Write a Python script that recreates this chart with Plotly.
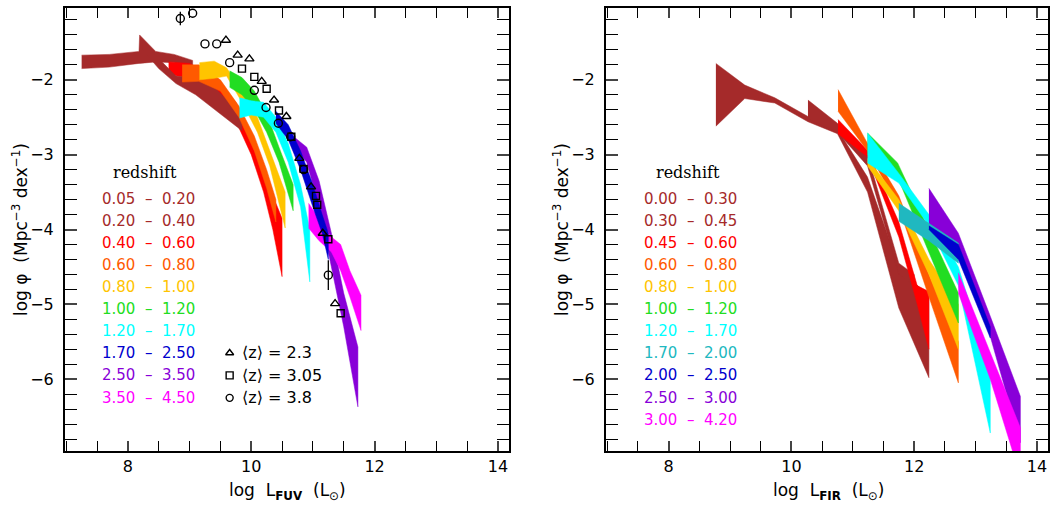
import plotly.graph_objects as go

# ---------------- data: FUV luminosity functions (log L, upper, lower log phi) ----
fuv_labels = ["0.05  –  0.20", "0.20  –  0.40", "0.40  –  0.60", "0.60  –  0.80", "0.80  –  1.00",
              "1.00  –  1.20", "1.20  –  1.70", "1.70  –  2.50", "2.50  –  3.50", "3.50  –  4.50"]
fuv_colors = ["#A52A2A", "#A52A2A", "#FF0000", "#FF5A00", "#FFC400",
              "#22DD22", "#00FFFF", "#0000CD", "#8800D8", "#FF00FF"]

fuv_x_0 = [7.25, 7.7, 8.18, 8.19, 8.45, 8.75, 9.05]
fuv_hi_0 = [-1.67, -1.66, -1.62, -1.40, -1.62, -1.66, -1.74]
fuv_lo_0 = [-1.85, -1.83, -1.78, -1.78, -1.76, -1.77, -1.84]

fuv_x_1 = [8.24, 8.5, 8.78, 9.1, 9.4, 9.65, 9.85]
fuv_hi_1 = [-1.50, -1.72, -1.95, -1.98, -2.10, -2.30, -2.45]
fuv_lo_1 = [-1.60, -1.85, -2.05, -2.20, -2.40, -2.55, -2.68]

fuv_x_2 = [8.66, 9.0, 9.4, 9.75, 10.0, 10.2, 10.35, 10.5]
fuv_hi_2 = [-1.76, -1.78, -1.95, -2.30, -2.75, -3.20, -3.55, -3.85]
fuv_lo_2 = [-1.93, -1.98, -2.15, -2.55, -3.00, -3.50, -4.00, -4.63]

fuv_x_3 = [8.88, 9.15, 9.5, 9.8, 10.05, 10.25, 10.4]
fuv_hi_3 = [-1.80, -1.80, -2.00, -2.35, -2.75, -3.20, -3.60]
fuv_lo_3 = [-2.03, -2.02, -2.15, -2.50, -2.95, -3.45, -3.90]

fuv_x_4 = [9.16, 9.4, 9.6, 9.85, 10.1, 10.3, 10.55]
fuv_hi_4 = [-1.77, -1.75, -1.84, -2.15, -2.50, -2.95, -3.50]
fuv_lo_4 = [-2.00, -1.98, -1.95, -2.30, -2.70, -3.15, -3.98]

fuv_x_5 = [9.65, 9.85, 10.05, 10.25, 10.45, 10.68]
fuv_hi_5 = [-1.88, -1.97, -2.15, -2.45, -2.90, -3.40]
fuv_lo_5 = [-2.10, -2.20, -2.40, -2.70, -3.10, -3.75]

fuv_x_6 = [9.81, 10.0, 10.2, 10.4, 10.6, 10.8, 10.95]
fuv_hi_6 = [-2.24, -2.28, -2.30, -2.50, -2.85, -3.40, -4.00]
fuv_lo_6 = [-2.51, -2.47, -2.50, -2.70, -3.10, -3.70, -4.70]

fuv_x_7 = [10.4, 10.6, 10.8, 11.0, 11.15, 11.25]
fuv_hi_7 = [-2.42, -2.60, -2.95, -3.40, -3.80, -4.05]
fuv_lo_7 = [-2.58, -2.80, -3.20, -3.70, -4.05, -4.40]

fuv_x_8 = [10.63, 10.9, 11.1, 11.3, 11.5, 11.73]
fuv_hi_8 = [-2.72, -2.90, -3.35, -4.05, -4.85, -5.57]
fuv_lo_8 = [-2.82, -3.10, -3.70, -4.50, -5.30, -6.37]

fuv_x_9 = [10.93, 11.1, 11.3, 11.45, 11.6, 11.78]
fuv_hi_9 = [-3.65, -3.85, -4.10, -4.20, -4.55, -4.88]
fuv_lo_9 = [-3.98, -4.15, -4.30, -4.55, -4.90, -5.35]

# Lyman-break data points
tri_x = [9.59, 9.78, 9.97, 10.17, 10.37, 10.57, 10.78, 10.97, 11.16, 11.36]
tri_y = [-1.47, -1.67, -1.72, -2.02, -2.27, -2.49, -3.05, -3.43, -4.05, -4.99]
sq_x = [9.85, 10.05, 10.25, 10.45, 10.65, 10.85, 11.05, 11.07, 11.25, 11.45]
sq_y = [-1.85, -1.96, -2.12, -2.41, -2.76, -3.19, -3.55, -3.67, -4.13, -5.12]
ci_x = [8.85, 9.05, 9.25, 9.44, 9.65, 10.05, 10.24, 10.44, 10.64, 10.85, 11.25]
ci_y = [-1.18, -1.11, -1.52, -1.52, -1.77, -2.14, -2.37, -2.58, -2.76, -3.20, -4.61]
ci_err = [0.09, 0, 0, 0, 0, 0, 0, 0, 0, 0, 0.20]
lbg_labels = ["⟨z⟩ = 2.3", "⟨z⟩ = 3.05", "⟨z⟩ = 3.8"]
lbg_symbols = ["triangle-up-open", "square-open", "circle-open"]

# ---------------- data: FIR luminosity functions ----------------
fir_labels = ["0.00  –  0.30", "0.30  –  0.45", "0.45  –  0.60", "0.60  –  0.80", "0.80  –  1.00",
              "1.00  –  1.20", "1.20  –  1.70", "1.70  –  2.00", "2.00  –  2.50", "2.50  –  3.00",
              "3.00  –  4.20"]
fir_colors = ["#A52A2A", "#A52A2A", "#FF0000", "#FF5A00", "#FFC400", "#22DD22",
              "#00FFFF", "#20B8C0", "#0000CD", "#8800D8", "#FF00FF"]

fir_x_0 = [8.77, 9.24, 9.73, 10.27, 10.75, 11.24, 11.75, 12.24]
fir_hi_0 = [-1.78, -2.07, -2.24, -2.49, -2.66, -3.30, -4.50, -4.90]
fir_lo_0 = [-2.62, -2.25, -2.31, -2.56, -2.72, -3.50, -5.05, -5.98]

fir_x_1 = [10.27, 10.75, 11.24, 11.75, 12.0]
fir_hi_1 = [-2.27, -2.58, -3.00, -4.45, -4.60]
fir_lo_1 = [-2.52, -2.70, -3.15, -4.60, -4.75]

fir_x_2 = [10.76, 11.24, 11.75, 12.05, 12.24]
fir_hi_2 = [-2.53, -2.94, -3.90, -4.75, -4.83]
fir_lo_2 = [-2.72, -3.03, -4.10, -5.00, -5.60]

fir_x_3 = [10.76, 11.24, 11.75, 12.24, 12.72]
fir_hi_3 = [-2.13, -2.85, -3.55, -4.60, -5.50]
fir_lo_3 = [-2.42, -2.95, -3.70, -4.90, -6.05]

fir_x_4 = [11.24, 11.75, 12.24, 12.72]
fir_hi_4 = [-3.05, -3.60, -4.40, -5.00]
fir_lo_4 = [-3.15, -3.75, -4.60, -5.60]

fir_x_5 = [11.24, 11.73, 12.24, 12.72]
fir_hi_5 = [-2.71, -3.11, -4.00, -4.85]
fir_lo_5 = [-3.00, -3.30, -4.30, -5.25]

fir_x_6 = [11.24, 11.75, 12.24, 12.72, 13.24]
fir_hi_6 = [-2.71, -3.25, -3.80, -4.50, -5.88]
fir_lo_6 = [-3.11, -3.38, -3.95, -4.75, -6.72]

fir_x_7 = [11.75, 12.24, 12.72]
fir_hi_7 = [-3.65, -3.92, -4.18]
fir_lo_7 = [-3.89, -4.15, -4.45]

fir_x_8 = [12.24, 12.72, 13.24]
fir_hi_8 = [-3.95, -4.20, -5.30]
fir_lo_8 = [-4.00, -4.40, -5.45]

fir_x_9 = [12.24, 12.72, 13.24, 13.73]
fir_hi_9 = [-3.45, -4.05, -5.16, -6.23]
fir_lo_9 = [-3.96, -4.23, -5.43, -6.85]

fir_x_10 = [12.72, 13.24, 13.73]
fir_hi_10 = [-4.58, -5.65, -6.65]
fir_lo_10 = [-4.85, -6.00, -7.30]

fuv_bands = [(fuv_x_0, fuv_hi_0, fuv_lo_0), (fuv_x_1, fuv_hi_1, fuv_lo_1), (fuv_x_2, fuv_hi_2, fuv_lo_2),
             (fuv_x_3, fuv_hi_3, fuv_lo_3), (fuv_x_4, fuv_hi_4, fuv_lo_4), (fuv_x_5, fuv_hi_5, fuv_lo_5),
             (fuv_x_6, fuv_hi_6, fuv_lo_6), (fuv_x_7, fuv_hi_7, fuv_lo_7), (fuv_x_8, fuv_hi_8, fuv_lo_8),
             (fuv_x_9, fuv_hi_9, fuv_lo_9)]
fir_bands = [(fir_x_0, fir_hi_0, fir_lo_0), (fir_x_1, fir_hi_1, fir_lo_1), (fir_x_2, fir_hi_2, fir_lo_2),
             (fir_x_3, fir_hi_3, fir_lo_3), (fir_x_4, fir_hi_4, fir_lo_4), (fir_x_5, fir_hi_5, fir_lo_5),
             (fir_x_6, fir_hi_6, fir_lo_6), (fir_x_7, fir_hi_7, fir_lo_7), (fir_x_8, fir_hi_8, fir_lo_8),
             (fir_x_9, fir_hi_9, fir_lo_9), (fir_x_10, fir_hi_10, fir_lo_10)]

# drawing order (later = on top)
fuv_order = [0, 2, 1, 3, 4, 5, 6, 8, 9, 7]
fir_order = [0, 1, 2, 3, 4, 5, 6, 9, 10, 7, 8]

FONT = "DejaVu Sans"
fig = go.Figure()


def add_band(x, hi, lo, color, xa, ya):
    fig.add_trace(go.Scatter(
        x=list(x) + list(x)[::-1], y=list(hi) + list(lo)[::-1],
        mode="lines", fill="toself", fillcolor=color,
        line=dict(color=color, width=0.5), xaxis=xa, yaxis=ya,
        showlegend=False, hoverinfo="skip"))


for i in fuv_order:
    x, hi, lo = fuv_bands[i]
    add_band(x, hi, lo, fuv_colors[i], "x", "y")
for i in fir_order:
    x, hi, lo = fir_bands[i]
    add_band(x, hi, lo, fir_colors[i], "x2", "y2")


def mk(sym, size=8):
    return dict(symbol=sym, color="black", size=size, line=dict(color="black", width=1.4))


fig.add_trace(go.Scatter(x=tri_x, y=tri_y, mode="markers", marker=mk("triangle-up-open"),
                         xaxis="x", yaxis="y", showlegend=False))
fig.add_trace(go.Scatter(x=sq_x, y=sq_y, mode="markers", marker=mk("square-open", 7),
                         xaxis="x", yaxis="y", showlegend=False))
fig.add_trace(go.Scatter(x=ci_x, y=ci_y, mode="markers", marker=mk("circle-open"),
                         error_y=dict(type="data", array=ci_err, color="black", thickness=1.3, width=0),
                         xaxis="x", yaxis="y", showlegend=False))

# ---------------- axes ----------------
XR = [6.98, 14.18]
YR = [-6.96, -1.04]
xminor = dict(dtick=0.5, tick0=0, ticks="inside", ticklen=5, tickwidth=1.2, tickcolor="black", showgrid=False)
yminor = dict(dtick=0.2, tick0=0, ticks="inside", ticklen=6, tickwidth=1.2, tickcolor="black", showgrid=False)
common_x = dict(range=XR, tickmode="linear", tick0=0, dtick=2, ticks="inside", ticklen=10, tickwidth=1.5,
                showline=True, linewidth=2, linecolor="black", mirror="allticks", showgrid=False,
                zeroline=False, tickfont=dict(family=FONT, size=16, color="black"), minor=xminor)
common_y = dict(range=YR, tickmode="linear", tick0=0, dtick=1,
                ticks="inside", ticklen=12, tickwidth=1.5,
                showline=True, linewidth=2, linecolor="black", mirror="allticks", showgrid=False,
                zeroline=False, tickfont=dict(family=FONT, size=16, color="black"), ticklabelstandoff=6,
                minor=yminor)
# overlay axes that only carry mirrored minor ticks (top / right)
mirror_x = dict(range=XR, tickmode="linear", tick0=0, dtick=2, ticks="inside", ticklen=10, tickwidth=1.5,
                showticklabels=False, showline=False, showgrid=False, zeroline=False, side="top",
                minor=xminor)
mirror_y = dict(range=YR, tickmode="linear", tick0=0, dtick=1, ticks="inside", ticklen=12, tickwidth=1.5,
                showticklabels=False, showline=False, showgrid=False, zeroline=False, side="right",
                minor=yminor)

D_TOP = 1 - 8 / 507
D_BOT = 1 - 451 / 507
fig.update_layout(
    width=1050, height=507, margin=dict(l=0, r=0, t=0, b=0),
    paper_bgcolor="white", plot_bgcolor="white",
    xaxis=dict(domain=[65 / 1050, 509 / 1050], anchor="y", **common_x),
    yaxis=dict(domain=[D_BOT, D_TOP], anchor="x", **common_y),
    xaxis2=dict(domain=[606 / 1050, 1048 / 1050], anchor="y2", **common_x),
    yaxis2=dict(domain=[D_BOT, D_TOP], anchor="x2", **common_y),
    xaxis3=dict(overlaying="x", anchor="y", **mirror_x),
    yaxis3=dict(overlaying="y", anchor="x", **mirror_y),
    xaxis4=dict(overlaying="x2", anchor="y2", **mirror_x),
    yaxis4=dict(overlaying="y2", anchor="x2", **mirror_y),
)
# empty traces so the overlay axes are drawn
for xa, ya in [("x3", "y"), ("x", "y3"), ("x4", "y2"), ("x2", "y4")]:
    fig.add_trace(go.Scatter(x=[], y=[], xaxis=xa, yaxis=ya, showlegend=False, hoverinfo="skip"))

ann = []
# axis titles
ytitle = "log φ  (Mpc<sup>−3</sup> dex<sup>−1</sup>)"
for xp in [20 / 1050, 561 / 1050]:
    ann.append(dict(text=ytitle, x=xp, y=1 - 230 / 507, xref="paper", yref="paper", textangle=-90,
                    xanchor="center", yanchor="middle",
                    showarrow=False, font=dict(family=FONT, size=17, color="black")))
ann.append(dict(text="log  L<sub><b>FUV</b></sub>  (L<sub>⊙</sub>)", x=287 / 1050, y=1 - 491 / 507,
                xref="paper", yref="paper", xanchor="center", yanchor="middle",
                showarrow=False, font=dict(family=FONT, size=17, color="black")))
ann.append(dict(text="log  L<sub><b>FIR</b></sub>  (L<sub>⊙</sub>)", x=828 / 1050, y=1 - 491 / 507,
                xref="paper", yref="paper", xanchor="center", yanchor="middle",
                showarrow=False, font=dict(family=FONT, size=17, color="black")))

# redshift legends
for (xr, yr, xc, xl, labels, colors) in [("x", "y", 8.28, 7.55, fuv_labels, fuv_colors),
                                          ("x2", "y2", 8.31, 7.57, fir_labels, fir_colors)]:
    ann.append(dict(text="redshift", x=xc, y=-3.24, xref=xr, yref=yr, showarrow=False,
                    xanchor="center", yanchor="middle",
                    font=dict(family="DejaVu Serif", size=16, color="black")))
    for k, (lab, col) in enumerate(zip(labels, colors)):
        ann.append(dict(text=lab, x=xl, y=-3.59 - 0.295 * k, xref=xr, yref=yr, xanchor="left",
                        yanchor="middle", showarrow=False, font=dict(family=FONT, size=15, color=col)))

# LBG legend: symbols + text
for k, (lab, sym) in enumerate(zip(lbg_labels, lbg_symbols)):
    yk = -5.65 - 0.30 * k
    fig.add_trace(go.Scatter(x=[9.65], y=[yk], mode="markers", marker=mk(sym, 7),
                             xaxis="x", yaxis="y", showlegend=False, hoverinfo="skip"))
    ann.append(dict(text=lab, x=9.82, y=yk, xref="x", yref="y", xanchor="left", yanchor="middle",
                    showarrow=False, font=dict(family=FONT, size=16, color="black")))

fig.update_layout(annotations=ann)
fig.write_html("out.html")
